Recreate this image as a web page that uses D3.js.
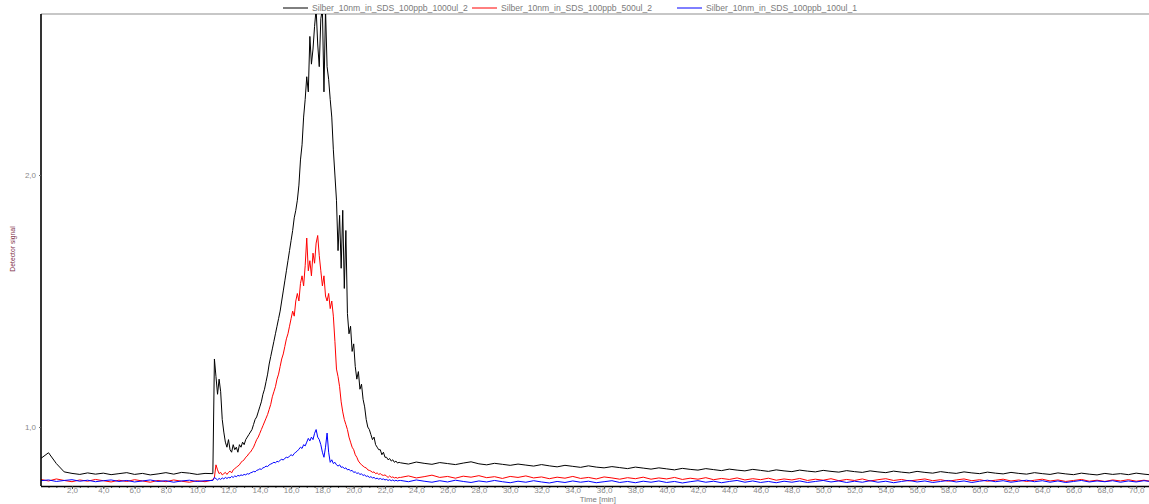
<!DOCTYPE html>
<html>
<head>
<meta charset="utf-8">
<script src="https://cdn.jsdelivr.net/npm/d3@7"></script>
<style>
  body { margin: 0; background: #fff; }
  svg { display: block; }
  text { font-family: "Liberation Sans", Arial, sans-serif; }
</style>
</head>
<body>
<svg id="chart" width="1149" height="504"></svg>
<script>
// ---- Sample names and colours ----
const seriesNames = [
  "Silber_10nm_in_SDS_100ppb_1000ul_2",
  "Silber_10nm_in_SDS_100ppb_500ul_2",
  "Silber_10nm_in_SDS_100ppb_100ul_1"
];
const seriesColors = ["#000000", "#ff0000", "#0000ff"];

// ---- Axis ticks ----
const timeTicks = [2, 4, 6, 8, 10, 12, 14, 16, 18, 20, 22, 24, 26, 28, 30, 32, 34, 36,
  38, 40, 42, 44, 46, 48, 50, 52, 54, 56, 58, 60, 62, 64, 66, 68, 70];
const signalTicks = [1.0, 2.0];

// ---- Sampling of each segment: start time (min) and interval (min) ----
const earlyStart = 0,  earlyStep = 0.5;
const peakStart  = 11, peakStep  = 0.1;
const lateStart  = 23, lateStep  = 0.5;

// ---- 1000 µl injection (black) ----
const blackEarly = [0.875, 0.898, 0.855, 0.822, 0.816, 0.812, 0.818, 0.813, 0.817, 0.811, 0.815,
  0.819, 0.812, 0.816, 0.810, 0.814, 0.819, 0.813, 0.820, 0.817, 0.812, 0.816];
const blackPeak = [
  0.815, 1.27, 1.20, 1.13, 1.19, 1.14, 1.03, 0.98, 0.94, 0.92,
  0.95, 0.91, 0.90, 0.93, 0.91, 0.92, 0.90, 0.93, 0.92, 0.94,
  0.93, 0.95, 0.96, 0.97, 0.98, 0.99, 1.01, 1.03, 1.04, 1.06,
  1.08, 1.10, 1.13, 1.15, 1.18, 1.21, 1.25, 1.28, 1.31, 1.34,
  1.37, 1.40, 1.43, 1.46, 1.50, 1.54, 1.58, 1.62, 1.66, 1.70,
  1.74, 1.78, 1.83, 1.86, 1.90, 1.96, 2.06, 2.12, 2.23, 2.30,
  2.39, 2.33, 2.55, 2.44, 2.50, 2.59, 2.66, 2.52, 2.43, 2.62,
  2.66, 2.33, 2.66, 2.43, 2.38, 2.30, 2.23, 2.10, 2.00, 1.90,
  1.70, 1.84, 1.63, 1.86, 1.55, 1.78, 1.45, 1.37, 1.40, 1.30,
  1.33, 1.24, 1.19, 1.22, 1.15, 1.17, 1.11, 1.08, 1.03, 1.00,
  0.99, 0.97, 0.95, 0.96, 0.93, 0.92, 0.91, 0.91, 0.89, 0.90,
  0.88, 0.88, 0.87, 0.875, 0.865, 0.87, 0.86, 0.865, 0.857, 0.86
];
const blackLate = [
  0.858, 0.853, 0.861, 0.856, 0.852, 0.859, 0.855, 0.851, 0.857, 0.862,
  0.854, 0.850, 0.856, 0.852, 0.848, 0.853, 0.849, 0.845, 0.851, 0.846,
  0.842, 0.848, 0.844, 0.840, 0.846, 0.841, 0.838, 0.843, 0.839, 0.835,
  0.841, 0.837, 0.833, 0.838, 0.834, 0.830, 0.836, 0.832, 0.829, 0.835,
  0.831, 0.827, 0.833, 0.829, 0.826, 0.832, 0.828, 0.824, 0.830, 0.826,
  0.823, 0.829, 0.825, 0.822, 0.828, 0.824, 0.821, 0.827, 0.823, 0.820,
  0.826, 0.822, 0.819, 0.825, 0.821, 0.818, 0.824, 0.820, 0.817, 0.823,
  0.819, 0.816, 0.822, 0.818, 0.815, 0.821, 0.817, 0.814, 0.820, 0.816,
  0.813, 0.819, 0.815, 0.812, 0.818, 0.814, 0.811, 0.817, 0.813, 0.810,
  0.816, 0.812, 0.815, 0.811, 0.817, 0.813, 0.810, 0.814, 0.812, 0.815
];

// ---- 500 µl injection (red) ----
const redEarly = [0.792, 0.786, 0.794, 0.788, 0.783, 0.790, 0.785, 0.792, 0.787, 0.782, 0.789,
  0.784, 0.791, 0.786, 0.781, 0.788, 0.783, 0.790, 0.785, 0.781, 0.787, 0.783];
const redPeak = [
  0.79, 0.80, 0.85, 0.83, 0.815, 0.82, 0.81, 0.815, 0.82, 0.812,
  0.82, 0.825, 0.818, 0.83, 0.835, 0.84, 0.845, 0.85, 0.86, 0.865,
  0.87, 0.88, 0.885, 0.895, 0.90, 0.91, 0.92, 0.935, 0.95, 0.96,
  0.975, 0.99, 1.005, 1.02, 1.035, 1.05, 1.07, 1.09, 1.12, 1.14,
  1.16, 1.19, 1.21, 1.24, 1.27, 1.29, 1.32, 1.35, 1.37, 1.40,
  1.43, 1.46, 1.44, 1.50, 1.53, 1.50, 1.57, 1.60, 1.56, 1.64,
  1.75, 1.62, 1.66, 1.60, 1.69, 1.65, 1.73, 1.76, 1.68, 1.62,
  1.56, 1.60, 1.52, 1.50, 1.53, 1.47, 1.50, 1.44, 1.34, 1.23,
  1.20, 1.16, 1.10, 1.06, 1.03, 1.01, 0.99, 0.96, 0.94, 0.92,
  0.91, 0.89, 0.88, 0.865, 0.857, 0.85, 0.845, 0.84, 0.838, 0.83,
  0.828, 0.825, 0.82, 0.822, 0.815, 0.818, 0.812, 0.815, 0.81, 0.808,
  0.81, 0.805, 0.80, 0.806, 0.80, 0.802, 0.798, 0.80, 0.797, 0.80
];
const redLate = [
  0.800, 0.806, 0.798, 0.803, 0.809, 0.800, 0.804, 0.797, 0.805, 0.801,
  0.807, 0.799, 0.803, 0.796, 0.804, 0.800, 0.806, 0.798, 0.802, 0.795,
  0.801, 0.797, 0.804, 0.796, 0.800, 0.794, 0.802, 0.798, 0.793, 0.799,
  0.795, 0.801, 0.793, 0.798, 0.794, 0.800, 0.792, 0.797, 0.793, 0.799,
  0.791, 0.796, 0.792, 0.798, 0.790, 0.795, 0.791, 0.797, 0.789, 0.794,
  0.790, 0.796, 0.788, 0.793, 0.789, 0.795, 0.787, 0.792, 0.788, 0.794,
  0.786, 0.791, 0.795, 0.788, 0.792, 0.786, 0.790, 0.794, 0.787, 0.791,
  0.785, 0.790, 0.794, 0.787, 0.791, 0.785, 0.789, 0.793, 0.786, 0.790,
  0.784, 0.789, 0.793, 0.786, 0.790, 0.784, 0.788, 0.792, 0.785, 0.789,
  0.784, 0.790, 0.786, 0.791, 0.785, 0.789, 0.784, 0.788, 0.786, 0.790
];

// ---- 100 µl injection (blue) ----
const blueEarly = [0.787, 0.790, 0.784, 0.788, 0.791, 0.785, 0.789, 0.783, 0.787, 0.790, 0.784,
  0.788, 0.782, 0.786, 0.790, 0.784, 0.787, 0.781, 0.786, 0.789, 0.784, 0.787];
const bluePeak = [
  0.788, 0.80, 0.795, 0.79, 0.796, 0.792, 0.798, 0.794, 0.80, 0.796,
  0.80, 0.798, 0.804, 0.80, 0.806, 0.803, 0.808, 0.806, 0.81, 0.808,
  0.812, 0.81, 0.815, 0.813, 0.818, 0.82, 0.824, 0.822, 0.828, 0.83,
  0.834, 0.832, 0.838, 0.84, 0.845, 0.843, 0.85, 0.853, 0.856, 0.86,
  0.858, 0.864, 0.862, 0.868, 0.872, 0.869, 0.876, 0.88, 0.878, 0.885,
  0.89, 0.886, 0.895, 0.90, 0.905, 0.912, 0.92, 0.915, 0.93, 0.925,
  0.94, 0.955, 0.945, 0.96, 0.95, 0.975, 0.99, 0.96, 0.95, 0.93,
  0.90, 0.88, 0.92, 0.976, 0.90, 0.86, 0.87, 0.855, 0.86, 0.85,
  0.845, 0.85, 0.84, 0.842, 0.835, 0.838, 0.83, 0.832, 0.826, 0.828,
  0.82, 0.822, 0.816, 0.818, 0.812, 0.814, 0.808, 0.81, 0.804, 0.806,
  0.80, 0.803, 0.798, 0.80, 0.795, 0.797, 0.793, 0.796, 0.792, 0.794,
  0.79, 0.792, 0.788, 0.791, 0.787, 0.79, 0.786, 0.789, 0.786, 0.788
];
const blueLate = [
  0.788, 0.783, 0.790, 0.785, 0.781, 0.787, 0.782, 0.789, 0.784, 0.780,
  0.786, 0.782, 0.788, 0.783, 0.779, 0.785, 0.781, 0.787, 0.782, 0.778,
  0.784, 0.780, 0.786, 0.781, 0.785, 0.779, 0.783, 0.787, 0.780, 0.784,
  0.779, 0.785, 0.781, 0.786, 0.780, 0.784, 0.778, 0.783, 0.787, 0.781,
  0.785, 0.779, 0.784, 0.788, 0.781, 0.786, 0.780, 0.784, 0.779, 0.785,
  0.781, 0.786, 0.780, 0.784, 0.788, 0.782, 0.786, 0.780, 0.785, 0.781,
  0.787, 0.781, 0.785, 0.779, 0.784, 0.788, 0.782, 0.786, 0.780, 0.784,
  0.788, 0.782, 0.786, 0.780, 0.785, 0.789, 0.783, 0.787, 0.781, 0.785,
  0.789, 0.783, 0.787, 0.781, 0.786, 0.780, 0.784, 0.788, 0.782, 0.786,
  0.783, 0.787, 0.781, 0.786, 0.782, 0.787, 0.783, 0.785, 0.781, 0.786
];

// Join the three sampled segments of a trace into [time, signal] pairs
function trace(early, peak, late) {
  return [
    ...early.map((v, i) => [earlyStart + i * earlyStep, v]),
    ...peak.map((v, i) => [peakStart + i * peakStep, v]),
    ...late.map((v, i) => [lateStart + i * lateStep, v])
  ];
}
const traces = [
  trace(blackEarly, blackPeak, blackLate),
  trace(redEarly, redPeak, redLate),
  trace(blueEarly, bluePeak, blueLate)
];

// ---- Layout ----
const svg = d3.select("#chart");
const plotLeft = 41, plotRight = 1149, plotTop = 14, plotBottom = 486;
const labelFont = "'Liberation Sans', Arial, sans-serif";

const x = d3.scaleLinear().domain([0, 70.82]).range([40.7, 1149]);
const y = d3.scaleLinear().domain([0.766, 2.639]).range([plotBottom, plotTop]);

const fmt = d => d3.format(".1f")(d).replace(".", ",");

svg.append("defs").append("clipPath").attr("id", "plot-clip")
  .append("rect")
  .attr("x", plotLeft).attr("y", plotTop)
  .attr("width", plotRight - plotLeft).attr("height", plotBottom - plotTop);

// Top frame line
svg.append("line")
  .attr("x1", plotLeft).attr("x2", plotRight)
  .attr("y1", plotTop).attr("y2", plotTop)
  .attr("stroke", "#b4b4b4").attr("stroke-width", 1.5);

// Traces
const line = d3.line().x(d => x(d[0])).y(d => y(d[1]));
svg.append("g").attr("clip-path", "url(#plot-clip)")
  .selectAll("path")
  .data(traces)
  .join("path")
  .attr("d", line)
  .attr("fill", "none")
  .attr("stroke", (d, i) => seriesColors[i])
  .attr("stroke-width", 1)
  .attr("stroke-linejoin", "round");

// Bottom axis: minor ticks every 0.5 min, labelled ticks every 2 min
const minorTimes = d3.range(1, 142).map(i => i * 0.5);
svg.append("g")
  .attr("transform", `translate(0,${plotBottom})`)
  .call(d3.axisBottom(x).tickValues(minorTimes).tickSize(2).tickFormat(""))
  .call(g => g.select(".domain").remove())
  .call(g => g.selectAll(".tick line").attr("stroke", "#555"));

const xAxis = svg.append("g")
  .attr("transform", `translate(0,${plotBottom})`)
  .call(d3.axisBottom(x).tickValues(timeTicks).tickSize(3).tickPadding(0).tickFormat(fmt));
xAxis.select(".domain").attr("stroke", "#000").attr("stroke-width", 1.5)
  .attr("d", `M${plotLeft},0.5H${plotRight}`);
xAxis.selectAll(".tick line").attr("stroke", "#444");
xAxis.selectAll(".tick text").attr("fill", "#8a8a8a").attr("y", 1.5)
  .style("font-size", "8px").style("font-family", labelFont);

svg.append("text")
  .attr("x", x(35.6)).attr("y", 502.2)
  .attr("text-anchor", "middle")
  .attr("fill", "#7a7a7a")
  .style("font-size", "7.8px")
  .text("Time [min]");

// Left axis
const yAxis = svg.append("g")
  .attr("transform", `translate(${plotLeft},0)`)
  .call(d3.axisLeft(y).tickValues(signalTicks).tickSize(2).tickPadding(3).tickFormat(fmt));
yAxis.select(".domain").attr("stroke", "#000").attr("stroke-width", 1.6)
  .attr("d", `M0,${plotTop}V${plotBottom}`);
yAxis.selectAll(".tick line").attr("stroke", "#666");
yAxis.selectAll(".tick text").attr("fill", "#8a8a8a")
  .style("font-size", "8px").style("font-family", labelFont);

svg.append("text")
  .attr("transform", "translate(15,249) rotate(-90)")
  .attr("text-anchor", "middle")
  .attr("fill", "#7b2d45")
  .style("font-size", "6.8px")
  .text("Detector signal");

// Legend across the top
const legendX = [283, 472, 677];
const legend = svg.append("g").selectAll("g")
  .data(seriesNames)
  .join("g")
  .attr("transform", (d, i) => `translate(${legendX[i]},8)`);
legend.append("line")
  .attr("x1", 0).attr("x2", 25)
  .attr("stroke", (d, i) => seriesColors[i])
  .attr("stroke-width", 1);
legend.append("text")
  .attr("x", 29).attr("y", 3)
  .attr("fill", "#7a7a7a")
  .style("font-size", "8.6px")
  .text(d => d);
</script>
</body>
</html>
